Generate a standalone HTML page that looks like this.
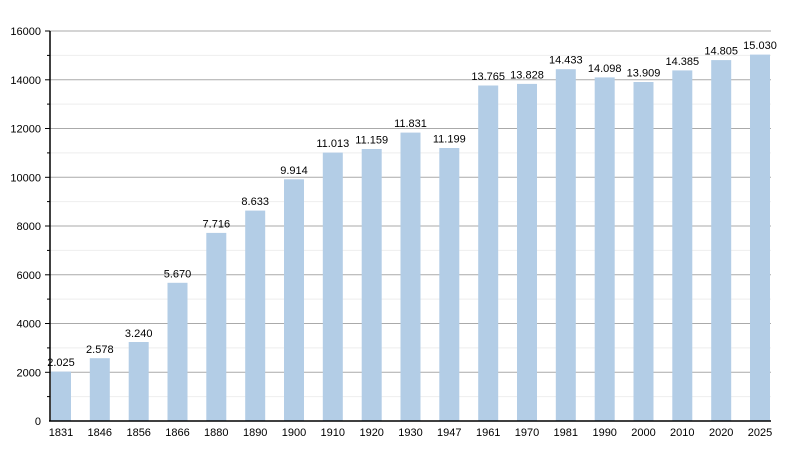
<!DOCTYPE html>
<html><head><meta charset="utf-8"><style>body{margin:0;background:#fff}svg{display:block;font-family:"Liberation Sans",sans-serif}</style></head><body>
<svg width="800" height="450" viewBox="0 0 800 450">
<g stroke="#eee" stroke-width="1">
<line x1="50" x2="771" y1="396.6" y2="396.6"/><line x1="50" x2="771" y1="347.9" y2="347.9"/><line x1="50" x2="771" y1="299.1" y2="299.1"/><line x1="50" x2="771" y1="250.4" y2="250.4"/><line x1="50" x2="771" y1="201.6" y2="201.6"/><line x1="50" x2="771" y1="152.9" y2="152.9"/><line x1="50" x2="771" y1="104.1" y2="104.1"/><line x1="50" x2="771" y1="55.4" y2="55.4"/>
</g>
<g stroke="#aaa" stroke-width="1">
<line x1="50" x2="771" y1="372.3" y2="372.3"/><line x1="50" x2="771" y1="323.5" y2="323.5"/><line x1="50" x2="771" y1="274.8" y2="274.8"/><line x1="50" x2="771" y1="226" y2="226"/><line x1="50" x2="771" y1="177.3" y2="177.3"/><line x1="50" x2="771" y1="128.5" y2="128.5"/><line x1="50" x2="771" y1="79.8" y2="79.8"/><line x1="50" x2="771" y1="31" y2="31"/>
</g>
<g fill="#b3cde6">
<rect x="51" y="371.6" width="20" height="49.4"/>
<rect x="89.8" y="358.2" width="20" height="62.8"/>
<rect x="128.7" y="342" width="20" height="79"/>
<rect x="167.5" y="282.8" width="20" height="138.2"/>
<rect x="206.3" y="232.9" width="20" height="188.1"/>
<rect x="245.2" y="210.6" width="20" height="210.4"/>
<rect x="284" y="179.3" width="20" height="241.7"/>
<rect x="322.8" y="152.6" width="20" height="268.4"/>
<rect x="361.7" y="149" width="20" height="272"/>
<rect x="400.5" y="132.6" width="20" height="288.4"/>
<rect x="439.3" y="148" width="20" height="273"/>
<rect x="478.2" y="85.5" width="20" height="335.5"/>
<rect x="517" y="83.9" width="20" height="337.1"/>
<rect x="555.8" y="69.2" width="20" height="351.8"/>
<rect x="594.7" y="77.4" width="20" height="343.6"/>
<rect x="633.5" y="82" width="20" height="339"/>
<rect x="672.3" y="70.4" width="20" height="350.6"/>
<rect x="711.2" y="60.1" width="20" height="360.9"/>
<rect x="750" y="54.6" width="20" height="366.4"/>
</g>
<g stroke="#000" stroke-width="1.5">
<line x1="50" x2="50" y1="31" y2="421"/><line x1="49" x2="771" y1="421" y2="421"/>
</g>
<g stroke="#000" stroke-width="1">
<line x1="45" x2="50" y1="31" y2="31"/><line x1="45" x2="50" y1="79.8" y2="79.8"/><line x1="45" x2="50" y1="128.5" y2="128.5"/><line x1="45" x2="50" y1="177.3" y2="177.3"/><line x1="45" x2="50" y1="226" y2="226"/><line x1="45" x2="50" y1="274.8" y2="274.8"/><line x1="45" x2="50" y1="323.5" y2="323.5"/><line x1="45" x2="50" y1="372.3" y2="372.3"/>
<line x1="47" x2="50" y1="55.4" y2="55.4"/><line x1="47" x2="50" y1="104.1" y2="104.1"/><line x1="47" x2="50" y1="152.9" y2="152.9"/><line x1="47" x2="50" y1="201.6" y2="201.6"/><line x1="47" x2="50" y1="250.4" y2="250.4"/><line x1="47" x2="50" y1="299.1" y2="299.1"/><line x1="47" x2="50" y1="347.9" y2="347.9"/><line x1="47" x2="50" y1="396.6" y2="396.6"/>
</g>
<g font-size="11" fill="#000" text-anchor="end">
<text x="41" y="35">16000</text><text x="41" y="84">14000</text><text x="41" y="132.5">12000</text><text x="41" y="181.5">10000</text><text x="41" y="230">8000</text><text x="41" y="279">6000</text><text x="41" y="327.5">4000</text><text x="41" y="376.5">2000</text><text x="41" y="425">0</text>
</g>
<g font-size="11" fill="#000" text-anchor="middle">
<text x="61" y="436">1831</text><text x="99.8" y="436">1846</text><text x="138.7" y="436">1856</text><text x="177.5" y="436">1866</text><text x="216.3" y="436">1880</text><text x="255.2" y="436">1890</text><text x="294" y="436">1900</text><text x="332.8" y="436">1910</text><text x="371.7" y="436">1920</text><text x="410.5" y="436">1930</text><text x="449.3" y="436">1947</text><text x="488.2" y="436">1961</text><text x="527" y="436">1970</text><text x="565.8" y="436">1981</text><text x="604.7" y="436">1990</text><text x="643.5" y="436">2000</text><text x="682.3" y="436">2010</text><text x="721.2" y="436">2020</text><text x="760" y="436">2025</text>
</g>
<g font-size="11" fill="#000" text-anchor="middle">
<text x="61" y="366">2.025</text><text x="99.8" y="353">2.578</text><text x="138.7" y="337">3.240</text><text x="177.5" y="277.5">5.670</text><text x="216.3" y="227.5">7.716</text><text x="255.2" y="205">8.633</text><text x="294" y="174">9.914</text><text x="332.8" y="147">11.013</text><text x="371.7" y="143.5">11.159</text><text x="410.5" y="127">11.831</text><text x="449.3" y="142.5">11.199</text><text x="488.2" y="80">13.765</text><text x="527" y="78.5">13.828</text><text x="565.8" y="63.5">14.433</text><text x="604.7" y="72">14.098</text><text x="643.5" y="76.5">13.909</text><text x="682.3" y="65">14.385</text><text x="721.2" y="54.5">14.805</text><text x="760" y="49">15.030</text>
</g>
</svg>
</body></html>
